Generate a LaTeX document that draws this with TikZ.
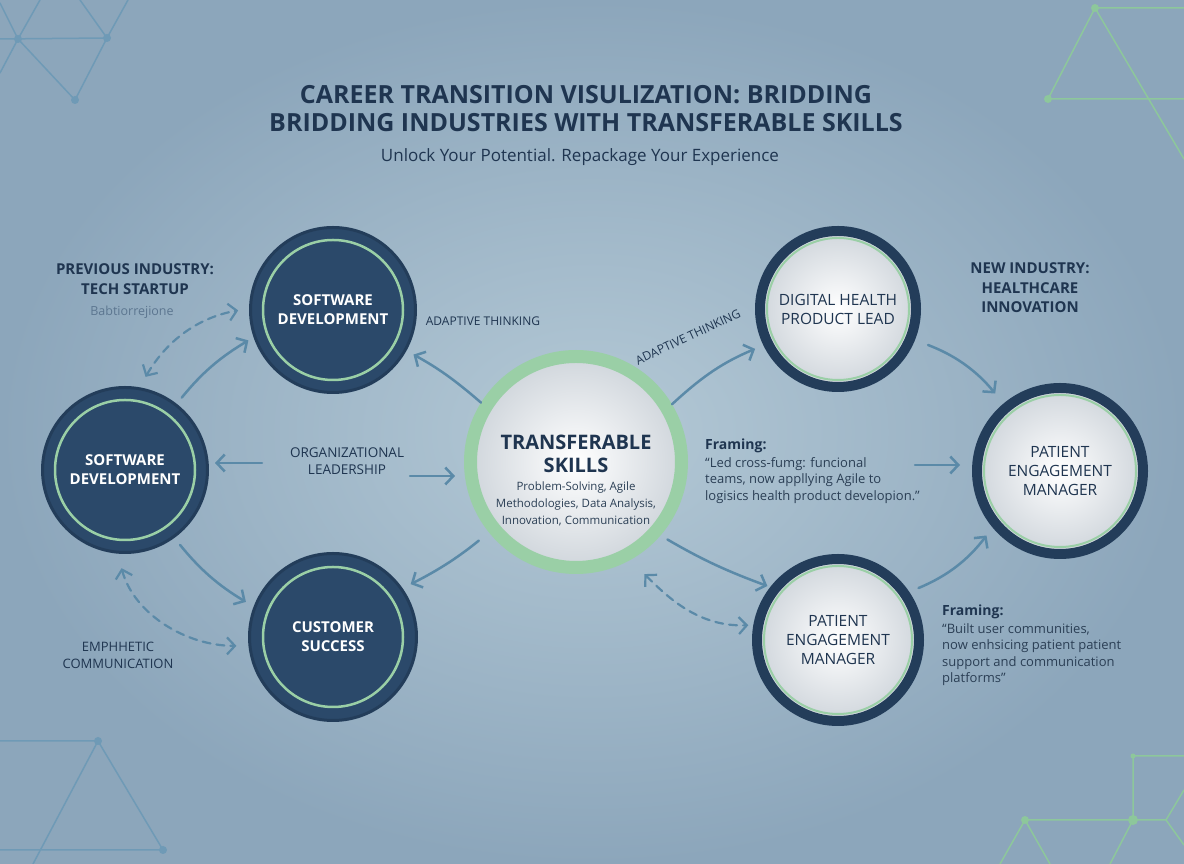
\documentclass[tikz,border=0pt]{standalone}
\usepackage{fontspec}
\setmainfont{Open Sans}
\usetikzlibrary{arrows.meta,positioning}
\definecolor{bgin}{HTML}{B4C9D6}
\definecolor{bgout}{HTML}{8CA6BB}
\definecolor{navy}{HTML}{2B496A}
\definecolor{navyline}{HTML}{233D5A}
\definecolor{ink}{HTML}{1F3550}
\definecolor{quote}{HTML}{2B3F55}
\definecolor{mint}{HTML}{9ACFA6}
\definecolor{arrowc}{HTML}{5B8AA8}
\definecolor{netblue}{HTML}{6F9AB6}
\definecolor{netgreen}{HTML}{8DC79B}
\definecolor{pearl}{HTML}{D0D6DC}
\definecolor{faint}{HTML}{5C7690}

\begin{document}
\begin{tikzpicture}[x=1pt, y=1pt, line cap=round, line join=round,
    darkball/.style={circle, fill=navy, draw=navyline, line width=3pt, minimum size=165pt,
      inner sep=0pt, text=white, align=center, font=\fontsize{15}{19}\selectfont\bfseries},
    lightball/.style={circle, shade, inner color=white, outer color=pearl, draw=navyline,
      line width=10pt, minimum size=156pt, inner sep=0pt, text=ink, align=center,
      font=\fontsize{15.5}{19}\selectfont},
    ring/.style={draw=mint, line width=2.5pt},
    heading/.style={text=ink, align=center, font=\fontsize{15}{20}\selectfont\bfseries},
    caption/.style={text=ink, align=center, font=\fontsize{13.5}{17}\selectfont},
    framehead/.style={text=ink, inner sep=0pt, font=\fontsize{14}{17}\selectfont\bfseries},
    framebody/.style={text=quote, inner sep=0pt, align=left, font=\fontsize{13}{16.5}\selectfont},
    arr/.style={draw=arrowc, line width=2.5pt, -{Straight Barb[length=8pt, width=17pt]}},
    dasharr/.style={draw=arrowc, line width=2.2pt, dash pattern=on 8pt off 6pt,
      {Straight Barb[length=8pt, width=17pt]}-{Straight Barb[length=8pt, width=17pt]}},
    net/.style={line width=1.5pt}]
  \useasboundingbox (0,0) rectangle (1184,864);
  \shade[inner color=bgin, outer color=bgout] (0,0) rectangle (1184,864);

  % background network
  \begin{scope}[net, draw=netblue, fill=netblue]
    \draw (0,825) -- (107,826) (18,825) -- (75,764) -- (107,826) -- (128,864)
          (80,864) -- (107,826) (0,861) -- (18,825) -- (40,864) (18,825) -- (0,791);
    \draw (0,123) -- (98,123) -- (163,14) (98,123) -- (33,0) (0,14) -- (163,14);
    \foreach \p in {(18,825), (107,826), (75,764), (98,123), (163,14)}
      \fill \p circle (4);
  \end{scope}
  \begin{scope}[net, draw=netgreen, fill=netgreen]
    \draw (1184,856) -- (1095,856) -- (1048,765) -- (1184,765) (1095,856) -- (1184,705);
    \draw (1184,108) -- (1133,108) -- (1133,44) (1000,0) -- (1025,44) -- (1050,0)
          (1025,44) -- (1166,44) -- (1184,74) (1166,44) -- (1184,19) (1133,44) -- (1110,0);
    \foreach \p/\r in {(1095,856)/4, (1048,765)/4, (1025,44)/4, (1133,44)/5, (1133,108)/2.5}
      \fill \p circle (\r);
  \end{scope}

  % titles
  \node[text=ink, font=\fontsize{25}{28}\selectfont\bfseries, align=center] (title) at (586,755)
    {CAREER TRANSITION VISULIZATION: BRIDDING\\BRIDDING INDUSTRIES WITH TRANSFERABLE SKILLS};
  \node[text=ink, font=\fontsize{17}{20}\selectfont] (subtitle) at (580,707)
    {Unlock Your Potential. Repackage Your Experience};

  % previous industry
  \node[darkball] (sw1) at (333,554) {SOFTWARE\\DEVELOPMENT};
  \node[darkball] (sw2) at (125,394) {SOFTWARE\\DEVELOPMENT};
  \node[darkball, minimum size=167pt] (cs) at (333,227) {CUSTOMER\\SUCCESS};
  \foreach \n in {sw1, sw2, cs}
    \draw[ring] (\n) circle (70);

  % transferable skills
  \node[circle, shade, inner color=white, outer color=pearl, draw=mint, line width=13pt,
    minimum size=211pt] (ts) at (576,402) {};
  \node[text=ink, align=center, font=\fontsize{20}{23}\selectfont\bfseries] (tstitle) at (576,410)
    {TRANSFERABLE\\SKILLS};
  \node[text=quote, align=center, font=\fontsize{11.5}{17}\selectfont, below=2pt of tstitle] (tsbody)
    {Problem-Solving, Agile\\Methodologies, Data Analysis,\\Innovation, Communication};

  % new industry
  \node[lightball] (dh) at (838,555) {DIGITAL HEALTH\\PRODUCT LEAD};
  \node[lightball, minimum size=166pt] (pe1) at (1060,393) {PATIENT\\ENGAGEMENT\\MANAGER};
  \node[lightball, minimum size=162pt] (pe2) at (838,224) {PATIENT\\ENGAGEMENT\\MANAGER};
  \draw[ring, line width=2pt] (dh) circle (71);
  \draw[ring, line width=2pt] (pe1) circle (76);
  \draw[ring, line width=2pt] (pe2) circle (74);

  % side labels
  \node[heading] (prev) at (135,585) {PREVIOUS INDUSTRY:\\TECH STARTUP};
  \node[text=faint, font=\fontsize{12.5}{14}\selectfont] (babt) at (132,552) {Babtiorrejione};
  \node[caption, font=\fontsize{12}{14}\selectfont] (adapt1) at (483,543) {ADAPTIVE THINKING};
  \node[caption] (org) at (347,403) {ORGANIZATIONAL\\LEADERSHIP};
  \node[caption, font=\fontsize{13}{17}\selectfont] (emph) at (118,209) {EMPHHETIC\\COMMUNICATION};
  \node[caption, font=\fontsize{12}{14}\selectfont, rotate=25] (adapt2) at (688,527) {ADAPTIVE THINKING};
  \node[heading, font=\fontsize{15}{19.5}\selectfont\bfseries] (new) at (1030,576)
    {NEW INDUSTRY:\\HEALTHCARE\\INNOVATION};

  % framing notes
  \node[framehead, anchor=west] (fr1h) at (705,418) {Framing:};
  \node[framebody, below right=4pt and 0pt of fr1h.south west] (fr1)
    {“Led cross-fumg: funcional\\teams, now appllying Agile to\\logisics health product developion.”};
  \node[framehead, anchor=west] (fr2h) at (942,252) {Framing:};
  \node[framebody, below right=4pt and 0pt of fr2h.south west] (fr2)
    {“Built user communities,\\now enhsicing patient patient\\support and communication\\platforms”};

  % connectors
  \coordinate (orgL) at (262,401);
  \coordinate (orgR) at (410,388);
  \coordinate (frR) at (915,399);
  \draw[arr, shorten <=8pt, shorten >=6pt] (sw2.52) to[bend left=10] (sw1.199);
  \draw[arr, shorten <=9pt, shorten >=9pt] (sw2.-54) to[bend right=10] (cs.159);
  \draw[arr, shorten >=6pt] (orgL) -- (orgL -| sw2.east);
  \draw[arr, shorten >=9pt] (orgR) -- (orgR -| ts.west);
  \draw[arr, shorten >=8pt] (ts.148) to[bend right=6] (sw1.-29);
  \draw[arr, shorten <=13pt, shorten >=9pt] (ts.-141) to[bend left=6] (cs.35);
  \draw[arr, shorten >=9pt] (ts.31) to[bend left=10] (dh.-154);
  \draw[arr, shorten <=8pt, shorten >=3pt] (ts.-41) to[bend right=5] (pe2.142);
  \draw[arr, shorten >=12pt] (frR) -- (frR -| pe1.west);
  \draw[arr, shorten <=14pt, shorten >=13pt] (dh.-22) to[bend left=15] (pe1.130);
  \draw[arr, shorten <=10pt, shorten >=10pt] (pe2.34) to[bend right=15] (pe1.-140);
  \draw[dasharr, shorten <=12pt, shorten >=11pt] (sw2.80) to[out=60, in=190] (sw1.179);
  \draw[dasharr, shorten <=15pt, shorten >=12pt] (sw2.-95) to[out=-75, in=180] (cs.186);
  \draw[dasharr, shorten <=20pt, shorten >=5pt] (ts.-61) to[out=-45, in=182] (pe2.170);
\end{tikzpicture}
\end{document}
